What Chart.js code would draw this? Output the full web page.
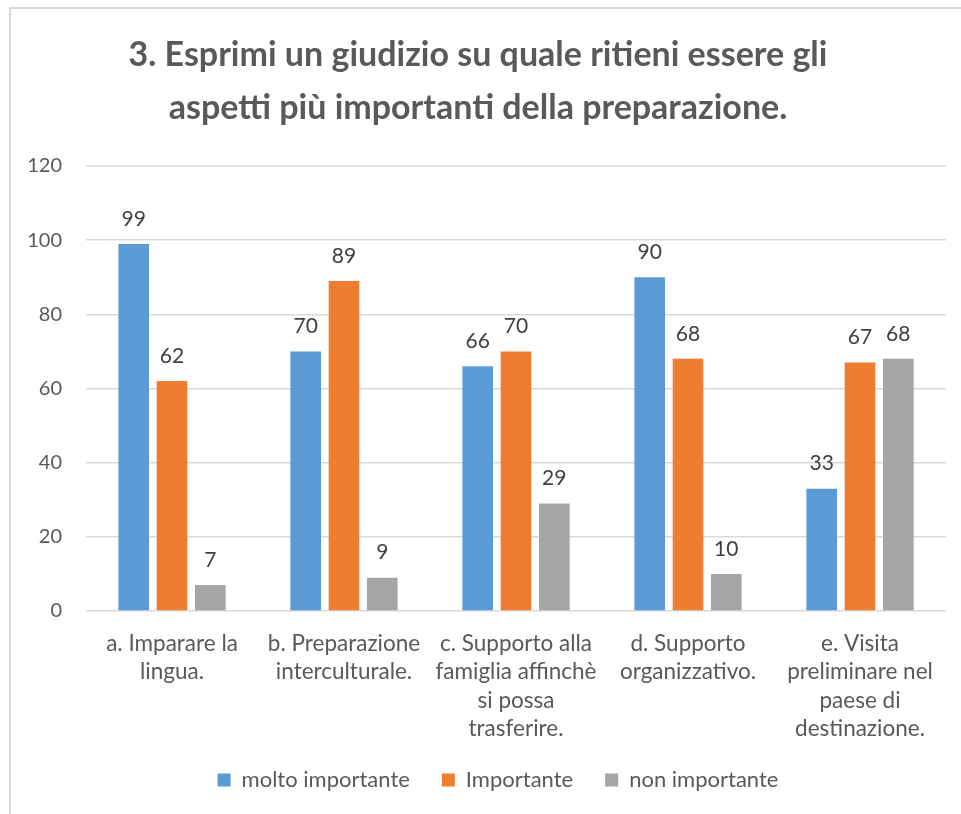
<!DOCTYPE html>
<html>
<head>
<meta charset="utf-8">
<script src="https://cdn.jsdelivr.net/npm/chart.js@4"></script>
<style>
  html, body { margin: 0; padding: 0; background: #ffffff; overflow: hidden; }
  #frame { position: absolute; left: 9px; top: 7px; width: 1000px; height: 900px; border: 2px solid #d9d9d9; box-sizing: border-box; }
  #wrap { position: absolute; left: 0; top: 0; width: 961px; height: 814px; }
</style>
</head>
<body>
<div id="frame"></div>
<div id="wrap"><canvas id="c" width="961" height="814"></canvas></div>
<script>
const titleLines = [
  "3. Esprimi un giudizio su quale ritieni essere gli",
  "aspetti più importanti della preparazione."
];
const categories = [
  ["a. Imparare la", "lingua."],
  ["b. Preparazione", "interculturale."],
  ["c. Supporto alla", "famiglia affinchè", "si possa", "trasferire."],
  ["d. Supporto", "organizzativo."],
  ["e. Visita", "preliminare nel", "paese di", "destinazione."]
];
const seriesNames = ["molto importante", "Importante", "non importante"];
const moltoImportante = [99, 70, 66, 90, 33];
const importante = [62, 89, 70, 68, 67];
const nonImportante = [7, 9, 29, 10, 68];
const yTicks = [0, 20, 40, 60, 80, 100, 120];
const colors = ["#5B9BD5", "#ED7D31", "#A5A5A5"];

const FONT = "Lato";

const dataLabels = {
  id: "dataLabels",
  afterLayout(chart) {
    // let the multi-line category labels extend below the axis box (avoid clipping)
    chart.scales.x.bottom = chart.height;
    // centre the legend row like the original (slightly right of the canvas centre)
    chart.legend.left += 40;
  },
  afterDatasetsDraw(chart) {
    const ctx = chart.ctx;
    ctx.save();
    ctx.font = "21px " + FONT;
    ctx.fillStyle = "#404040";
    ctx.textAlign = "center";
    ctx.textBaseline = "middle";
    chart.data.datasets.forEach((ds, i) => {
      const meta = chart.getDatasetMeta(i);
      meta.data.forEach((bar, j) => {
        ctx.fillText(String(ds.data[j]), bar.x, bar.y - 25);
      });
    });
    ctx.restore();
  }
};

new Chart(document.getElementById("c"), {
  type: "bar",
  data: {
    labels: categories,
    datasets: [
      { label: seriesNames[0], data: moltoImportante, backgroundColor: colors[0] },
      { label: seriesNames[1], data: importante, backgroundColor: colors[1] },
      { label: seriesNames[2], data: nonImportante, backgroundColor: colors[2] }
    ]
  },
  options: {
    responsive: false,
    animation: false,
    events: [],
    layout: { padding: { top: 0, left: 10, right: 15, bottom: 13 } },
    datasets: { bar: { categoryPercentage: 0.668, barPercentage: 0.8 } },
    plugins: {
      title: {
        display: true,
        text: titleLines,
        color: "#595959",
        font: { family: FONT, weight: "bold", size: 34, lineHeight: 53 / 34 },
        padding: { top: 28.5, bottom: 31.5 }
      },
      legend: {
        position: "bottom",
        labels: {
          boxWidth: 13, boxHeight: 13, padding: 32,
          color: "#595959",
          font: { family: FONT, size: 22 }
        }
      },
      tooltip: { enabled: false }
    },
    scales: {
      x: {
        grid: { display: false, drawTicks: false },
        border: { display: false },
        ticks: { color: "#595959", font: { family: FONT, size: 22.5, lineHeight: 28.5 / 22.5 }, padding: 18, maxRotation: 0, autoSkip: false },
        afterFit(scale) { scale.height = 126; }
      },
      y: {
        min: 0, max: 120,
        afterBuildTicks(scale) { scale.ticks = yTicks.map(v => ({ value: v })); },
        grid: { color: "#d9d9d9", lineWidth: 1.5, drawTicks: false },
        border: { display: false },
        ticks: { color: "#595959", font: { family: FONT, size: 20 }, padding: 24 },
        afterFit(scale) { scale.width = 76; }
      }
    }
  },
  plugins: [dataLabels]
});
</script>
</body>
</html>
